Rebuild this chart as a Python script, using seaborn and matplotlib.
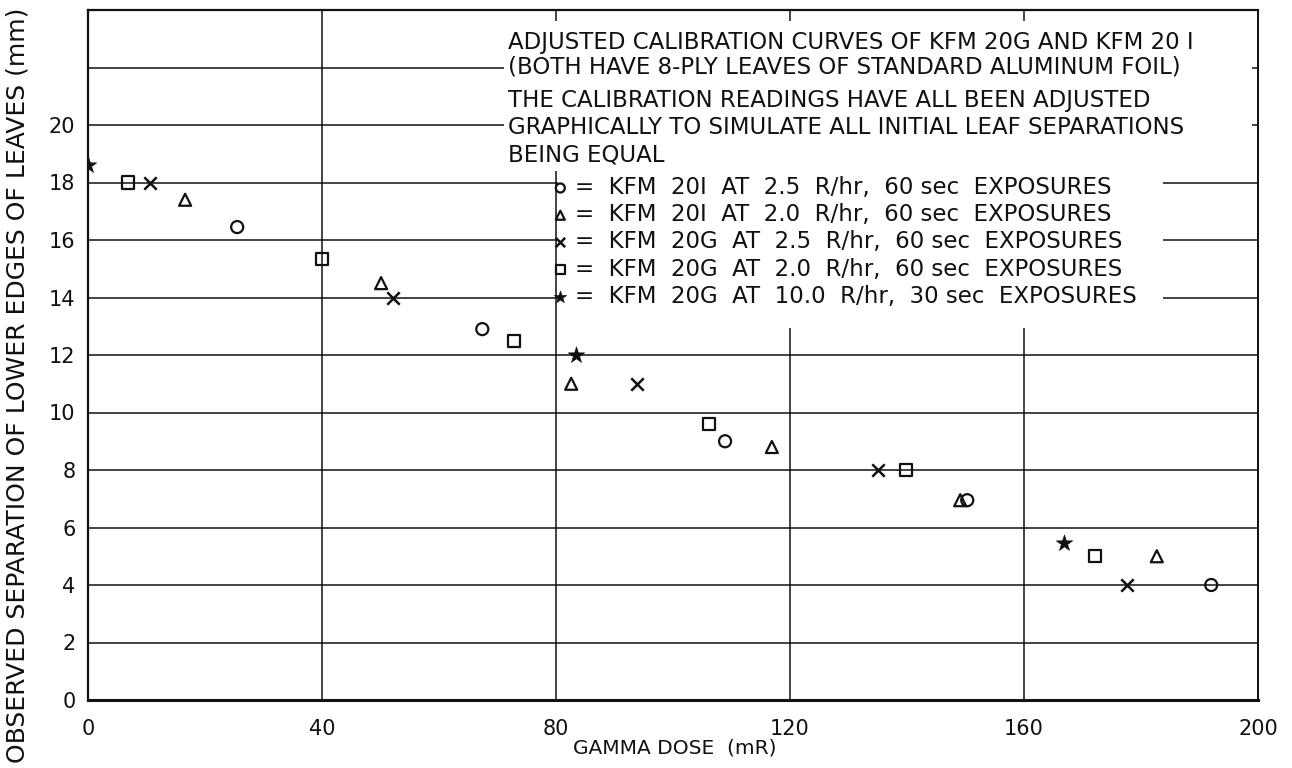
import matplotlib
matplotlib.use("Agg")
import matplotlib.pyplot as plt
import seaborn as sns
from matplotlib.patches import Rectangle

# valeurs (dose en mR, separation en mm)
circle_x = [25.5, 67.4, 108.9, 150.3, 192.0]
circle_y = [16.45, 12.9, 9.0, 6.95, 4.0]
tri_x = [16.6, 50.1, 82.6, 116.9, 149.1, 182.7]
tri_y = [17.4, 14.5, 11.0, 8.8, 6.95, 5.0]
cross_x = [10.6, 52.1, 93.8, 135.0, 177.6]
cross_y = [18.0, 14.0, 11.0, 8.0, 4.0]
square_x = [6.8, 40.0, 72.8, 106.2, 139.8, 172.1]
square_y = [18.0, 15.35, 12.5, 9.6, 8.0, 5.0]
star_x = [0.0, 83.4, 166.8]
star_y = [18.6, 12.0, 5.45]

series_labels = [
    "=  KFM  20I  AT  2.5  R/hr,  60 sec  EXPOSURES",
    "=  KFM  20I  AT  2.0  R/hr,  60 sec  EXPOSURES",
    "=  KFM  20G  AT  2.5  R/hr,  60 sec  EXPOSURES",
    "=  KFM  20G  AT  2.0  R/hr,  60 sec  EXPOSURES",
    "=  KFM  20G  AT  10.0  R/hr,  30 sec  EXPOSURES",
]
notes = [
    "ADJUSTED CALIBRATION CURVES OF KFM 20G AND KFM 20 I",
    "(BOTH HAVE 8-PLY LEAVES OF STANDARD ALUMINUM FOIL)",
    "THE CALIBRATION READINGS HAVE ALL BEEN ADJUSTED",
    "GRAPHICALLY TO SIMULATE ALL INITIAL LEAF SEPARATIONS",
    "BEING EQUAL",
]
x_ticks = [0, 40, 80, 120, 160, 200]
y_ticks = [0, 2, 4, 6, 8, 10, 12, 14, 16, 18, 20, 22, 24]
y_tick_labels = ["0", "2", "4", "6", "8", "10", "12", "14", "16", "18", "20", "", ""]

sns.set_style("white")
plt.rcParams["font.family"] = ["DejaVu Sans"]

fig = plt.figure(figsize=(12.92, 7.68), dpi=100)
ax = fig.add_axes([88 / 1292, 68 / 768, 1170 / 1292, 690 / 768])

ink = "#111111"
open_kw = dict(facecolor="none", edgecolor=ink, linewidth=1.6, s=75, ax=ax, zorder=4)
sns.scatterplot(x=circle_x, y=circle_y, marker="o", label=series_labels[0], **open_kw)
sns.scatterplot(x=tri_x, y=tri_y, marker="^", label=series_labels[1], **open_kw)
sns.scatterplot(x=cross_x, y=cross_y, marker="x", color=ink, linewidth=1.8, s=80,
                label=series_labels[2], ax=ax, zorder=4)
sns.scatterplot(x=square_x, y=square_y, marker="s", label=series_labels[3], **open_kw)
sns.scatterplot(x=star_x, y=star_y, marker="*", color=ink, edgecolor=ink, linewidth=0.5,
                s=150, label=series_labels[4], ax=ax, zorder=4)

ax.set_xlim(0, 200)
ax.set_ylim(0, 24)
ax.set_xticks(x_ticks)
ax.set_xticklabels([str(t) for t in x_ticks])
ax.set_yticks(y_ticks)
ax.set_yticklabels(y_tick_labels)
ax.tick_params(length=0, labelsize=15, colors=ink)
ax.tick_params(axis="x", pad=14)
ax.tick_params(axis="y", pad=9)
ax.grid(True, color=ink, linewidth=1.1)
ax.set_axisbelow(True)
for side, lw in [("bottom", 2.2), ("left", 1.6), ("top", 1.6), ("right", 1.4)]:
    ax.spines[side].set_color(ink)
    ax.spines[side].set_linewidth(lw)
    ax.spines[side].set_zorder(5)

# zones blanches sous le texte (cachent la grille)
ax.add_patch(Rectangle((71.1, 18.4), 199.0 - 71.1, 23.6 - 18.4, facecolor="white",
                       edgecolor="none", zorder=2))
ax.add_patch(Rectangle((80.3, 12.95), 183.8 - 80.3, 18.45 - 12.95, facecolor="white",
                       edgecolor="none", zorder=2))

ax.set_xlabel("GAMMA DOSE  (mR)", fontsize=14.5, color=ink, va="center")
ax.xaxis.set_label_coords(0.5017, -0.0696)
ax.set_ylabel("OBSERVED SEPARATION OF LOWER EDGES OF LEAVES (mm)", fontsize=18,
              color=ink, va="center")
ax.yaxis.set_label_coords(-0.060, 0.4565)

note_y = [43, 67, 101, 127, 155]
for txt, yp in zip(notes, note_y):
    fig.text(508 / 1292, 1 - yp / 768, txt, fontsize=16.5, color=ink, va="center", ha="left")

leg = ax.legend(loc="upper left", bbox_to_anchor=(550 / 1292, 1 - 176 / 768),
                bbox_transform=fig.transFigure, frameon=False, fontsize=16.5,
                handlelength=0.9, handletextpad=0.2, labelspacing=0.185,
                borderpad=0, borderaxespad=0, markerscale=0.75)
for t in leg.get_texts():
    t.set_color(ink)

fig.savefig("out.png", dpi=100)
plt.close(fig)
